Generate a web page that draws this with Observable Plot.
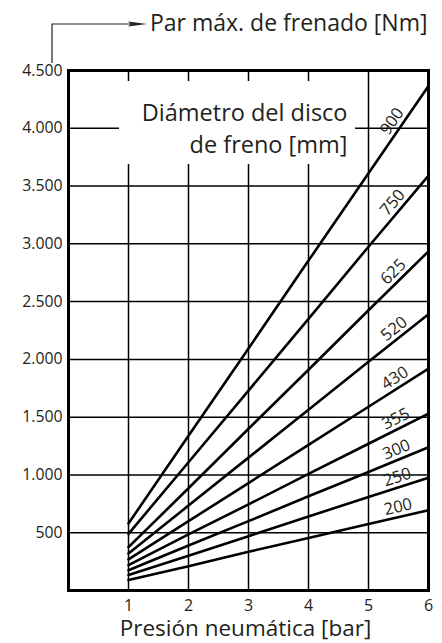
<!DOCTYPE html>
<html>
<head>
<meta charset="utf-8">
<script src="https://cdn.jsdelivr.net/npm/d3@7"></script>
<script src="https://cdn.jsdelivr.net/npm/@observablehq/plot@0.6"></script>
<style>
html, body { margin: 0; padding: 0; background: #fff; }
#chart svg { display: block; }
</style>
</head>
<body>
<div id="chart"></div>
<script>
// ---- data ----
const pressure = [1, 2, 3, 4, 5, 6];
const diameters = [900, 750, 625, 520, 430, 355, 300, 250, 200];
const torque900 = [580, 1340, 2095, 2855, 3610, 4365];
const torque750 = [490, 1110, 1730, 2350, 2975, 3590];
const torque625 = [375, 885, 1400, 1910, 2425, 2935];
const torque520 = [320, 735, 1150, 1565, 1980, 2390];
const torque430 = [270, 600, 930, 1260, 1590, 1920];
const torque355 = [220, 485, 745, 1010, 1270, 1530];
const torque300 = [175, 390, 600, 815, 1025, 1240];
const torque250 = [135, 300, 470, 640, 810, 975];
const torque200 = [90, 210, 335, 455, 575, 695];
const xTicks = [1, 2, 3, 4, 5, 6];
const yTicks = [500, 1000, 1500, 2000, 2500, 3000, 3500, 4000, 4500];
const xGrid = [1, 2, 3, 4, 5];
const yGrid = [500, 1000, 1500, 2000, 2500, 3000, 3500, 4000];
const titleText = "Par máx. de frenado [Nm]";
const legendText = "Diámetro del disco\nde freno [mm]";
const xLabel = "Presión neumática [bar]";
const labelPressure = 5.53;

// ---- layout ----
const W = 442, H = 643, mL = 68, mR = 14, mT = 70, mB = 53;
const xDomain = [0, 6], yDomain = [0, 4500];
const ink = "#231f20";
const font = "'Open Sans', 'Noto Sans', sans-serif";

const series = {900: torque900, 750: torque750, 625: torque625, 520: torque520,
  430: torque430, 355: torque355, 300: torque300, 250: torque250, 200: torque200};
const rows = diameters.flatMap(d => pressure.map((p, i) => ({d, p, t: series[d][i]})));

const pxPerX = (W - mL - mR) / (xDomain[1] - xDomain[0]);
const pxPerY = (H - mT - mB) / (yDomain[1] - yDomain[0]);
const labelOffset = 10;
const labels = diameters.map(d => {
  const v = series[d];
  const i = 4;
  const f = (labelPressure - pressure[i]) / (pressure[i + 1] - pressure[i]);
  const t = v[i] + (v[i + 1] - v[i]) * f;
  const a = Math.atan2((v[i + 1] - v[i]) * pxPerY, (pressure[i + 1] - pressure[i]) * pxPerX);
  return {
    d,
    p: labelPressure - Math.sin(a) * labelOffset / pxPerX,
    t: t + Math.cos(a) * labelOffset / pxPerY,
    rot: -a * 180 / Math.PI
  };
});

const locale = d3.formatLocale({decimal: ",", thousands: ".", grouping: [3], currency: ["", " €"]});
const fmt = locale.format(",");

function legendBox(index, scales, values, dims) {
  const g = d3.create("svg:g");
  g.append("rect")
    .attr("x", dims.marginLeft + 51)
    .attr("y", dims.marginTop + 11)
    .attr("width", 236)
    .attr("height", 83)
    .attr("fill", "white");
  return g.node();
}

function titleArrow(index, scales, values, dims) {
  const g = d3.create("svg:g");
  const x0 = dims.marginLeft - 16, yTop = dims.marginTop - 46, yBot = dims.marginTop - 7;
  g.append("path")
    .attr("d", `M${x0},${yBot}V${yTop}H${x0 + 82}`)
    .attr("fill", "none").attr("stroke", ink).attr("stroke-width", 1.2);
  g.append("path")
    .attr("d", `M${x0 + 76},${yTop - 2.6}L${x0 + 95},${yTop}L${x0 + 76},${yTop + 2.6}L${x0 + 79},${yTop}Z`)
    .attr("fill", ink);
  return g.node();
}

const chart = Plot.plot({
  width: W, height: H,
  marginLeft: mL, marginRight: mR, marginTop: mT, marginBottom: mB,
  style: {fontFamily: font, fontSize: "16px", color: ink, background: "white", overflow: "visible"},
  x: {domain: xDomain, axis: null},
  y: {domain: yDomain, axis: null},
  marks: [
    Plot.ruleX(xGrid, {stroke: "black", strokeWidth: 1.5}),
    Plot.ruleY(yGrid, {stroke: "black", strokeWidth: 1.5}),
    legendBox,
    Plot.text([legendText], {frameAnchor: "top-right", textAnchor: "end", lineAnchor: "top",
      dx: -81, dy: 28, fontSize: 23.5, lineHeight: 1.35, fill: ink}),
    Plot.line(rows, {x: "p", y: "t", z: "d", stroke: "black", strokeWidth: 2.6}),
    Plot.text(labels, {x: "p", y: "t", text: d => String(d.d), rotate: "rot",
      textAnchor: "middle", lineAnchor: "middle", fontSize: 16.5, fill: ink}),
    // x tick labels
    Plot.text(xTicks, {x: d => d, frameAnchor: "bottom", lineAnchor: "top", dy: 9,
      text: d => String(d), fontSize: 16, fill: ink}),
    // y tick labels
    Plot.text(yTicks, {y: d => d, frameAnchor: "left", textAnchor: "end", lineAnchor: "middle", dx: -6,
      text: d => fmt(d), fontSize: 15.8, fill: ink}),
    Plot.frame({stroke: "black", strokeWidth: 3}),
    Plot.text([titleText], {frameAnchor: "top-right", textAnchor: "end", lineAnchor: "top",
      dx: -1, dy: -56, fontSize: 23, fill: ink}),
    titleArrow,
    Plot.text([xLabel], {frameAnchor: "bottom", lineAnchor: "top", dy: 30, dx: -3, fontSize: 22.5, fill: ink})
  ]
});
document.getElementById("chart").append(chart);
</script>
</body>
</html>
